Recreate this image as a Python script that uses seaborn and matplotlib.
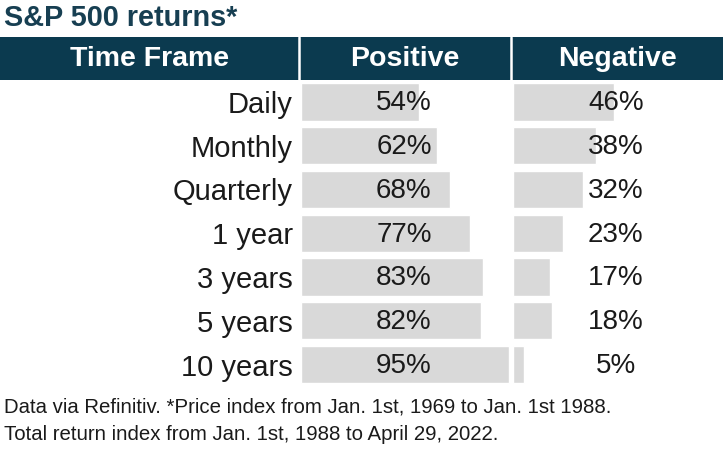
import matplotlib
matplotlib.use("Agg")
import matplotlib.pyplot as plt
import matplotlib.transforms as mtransforms
from matplotlib.patches import Rectangle
import seaborn as sns
import pandas as pd

# ---- data ----
time_frames = ["Daily", "Monthly", "Quarterly", "1 year", "3 years", "5 years", "10 years"]
positive = [54, 62, 68, 77, 83, 82, 95]
negative = [46, 38, 32, 23, 17, 18, 5]
headers = ["Time Frame", "Positive", "Negative"]
title = "S&P 500 returns*"
footer = ["Data via Refinitiv. *Price index from Jan. 1st, 1969 to Jan. 1st 1988.",
          "Total return index from Jan. 1st, 1988 to April 29, 2022."]

df = pd.DataFrame({"frame": time_frames, "positive": positive, "negative": negative})

sns.set_theme(style="white")
plt.rcParams["font.family"] = ["Liberation Sans", "DejaVu Sans"]

W, H = 723, 457
fig = plt.figure(figsize=(W / 100, H / 100), dpi=100)
fig.patch.set_facecolor("white")

def fx(px):
    return px / W

def fy(py):
    return 1 - py / H

HEADER_COL = "#0b3a4f"
BAR_COL = "#d9d9d9"
TXT = "#1a1a1a"

# header band
fig.patches.append(Rectangle((0, fy(80)), 1, fy(37) - fy(80), transform=fig.transFigure,
                             facecolor=HEADER_COL, edgecolor="none", zorder=0))
for xd in (299, 511):
    fig.add_artist(plt.Line2D([fx(xd), fx(xd)], [fy(80), fy(37)], transform=fig.transFigure,
                              color="white", lw=1.8))
for name, xc in zip(headers, (150, 405, 617)):
    fig.text(fx(xc), fy(59), name, ha="center", va="center", color="white",
             fontsize=20.5, fontweight="bold")

# title
fig.text(fx(4), fy(25.5), title, ha="left", va="baseline", color="#173f52",
         fontsize=20.8, fontweight="bold")

# footer
fig.text(fx(4), fy(412.5), footer[0], ha="left", va="baseline", color=TXT, fontsize=14.7)
fig.text(fx(4), fy(440), footer[1], ha="left", va="baseline", color=TXT, fontsize=14.7)

# axes geometry
top_px, bot_px = 80.1, 386.4
scale = 2.19  # px per percent
col_w = 210
xmax = col_w / scale

def make_ax(left_px, col, center_frac):
    ax = fig.add_axes([fx(left_px), fy(bot_px), col_w / W, (bot_px - top_px) / H])
    sns.barplot(data=df, x=col, y="frame", ax=ax, color=BAR_COL, saturation=1,
                width=0.85, orient="h")
    ax.set_xlim(0, xmax)
    ax.set_ylim(6.5, -0.5)
    ax.set_xlabel("")
    ax.set_ylabel("")
    ax.set_xticks([])
    for s in ax.spines.values():
        s.set_visible(False)
    ax.patch.set_alpha(0)
    trans = mtransforms.blended_transform_factory(ax.transAxes, ax.transData)
    for i, v in enumerate(df[col]):
        ax.text(center_frac, i + 0.03, f"{v}%", transform=trans, ha="center", va="center",
                fontsize=20, color=TXT)
    return ax

ax1 = make_ax(301, "positive", 0.49)
ax1.tick_params(axis="y", left=False, length=0, pad=5.8, labelsize=21, labelcolor=TXT)
ax2 = make_ax(513, "negative", 0.49)
ax2.set_yticks([])

fig.savefig("out.png", dpi=100, facecolor="white")
